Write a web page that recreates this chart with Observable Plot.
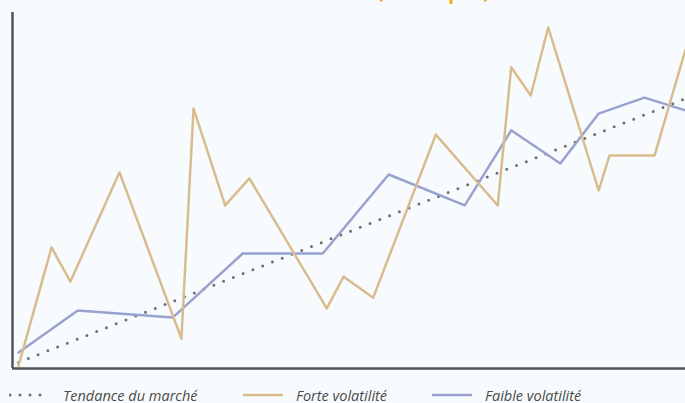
<!DOCTYPE html>
<html>
<head>
<meta charset="utf-8">
<script src="https://cdn.jsdelivr.net/npm/d3@7"></script>
<script src="https://cdn.jsdelivr.net/npm/@observablehq/plot@0.6"></script>
<style>
  html, body { margin: 0; padding: 0; background: #f8fbfd; width: 685px; height: 403px; overflow: hidden; position: relative; font-family: "Open Sans", sans-serif; }
  #title { position: absolute; left: 0; width: 685px; top: -23px; text-align: center; padding-left: 182px; box-sizing: border-box; font-size: 24px; line-height: 1; font-weight: 600; color: #f5a800; white-space: nowrap; }
  #chart { position: absolute; left: 0; top: 0; }
  #legend { position: absolute; left: 0; top: 385px; width: 685px; height: 20px; font-style: italic; font-size: 14.5px; color: #4a4a4a; }
  .item { position: absolute; top: 0; display: flex; align-items: center; height: 20px; }
  .item svg { margin-right: 12px; }
</style>
</head>
<body>
<div id="title">(exemple)</div>
<div id="chart"></div>
<div id="legend"></div>
<script>
// Series values (x: time index 0-100, y: value index 0-100)
const forteX = [0.9, 5.8, 8.6, 15.9, 25.1, 26.9, 31.6, 35.2, 46.7, 49.2, 53.6, 62.9, 72.1, 74.1, 77.0, 79.6, 87.1, 88.7, 95.4, 100];
const forteY = [0.8, 34.0, 24.4, 55.1, 8.4, 73.0, 45.8, 53.4, 16.9, 25.8, 19.9, 65.7, 45.8, 84.6, 76.7, 95.8, 50.0, 59.8, 59.8, 89.6];
const faibleX = [0.9, 9.7, 23.8, 34.2, 46.1, 55.9, 67.2, 74.1, 81.4, 87.1, 93.9, 100];
const faibleY = [4.5, 16.3, 14.3, 32.3, 32.3, 54.5, 45.8, 66.9, 57.6, 71.6, 76.1, 72.5];
const trendX = [0.9, 100];
const trendY = [1.7, 75.8];
const seriesNames = ["Tendance du marché", "Forte volatilité", "Faible volatilité"];
const colors = {trend: "#707070", forte: "#d8bc8e", faible: "#97a2cf"};

const forte = forteX.map((x, i) => ({x, y: forteY[i]}));
const faible = faibleX.map((x, i) => ({x, y: faibleY[i]}));
const trend = trendX.map((x, i) => ({x, y: trendY[i]}));

const plot = Plot.plot({
  width: 685,
  height: 375,
  marginLeft: 12,
  marginRight: 0,
  marginTop: 12,
  marginBottom: 7,
  style: {background: "transparent", overflow: "visible"},
  x: {domain: [0, 100], axis: null},
  y: {domain: [0, 100], axis: null},
  marks: [
    Plot.line(trend, {x: "x", y: "y", stroke: colors.trend, strokeWidth: 3, strokeDasharray: "0,10.5", strokeLinecap: "round"}),
    Plot.line(faible, {x: "x", y: "y", stroke: colors.faible, strokeWidth: 2.5}),
    Plot.line(forte, {x: "x", y: "y", stroke: colors.forte, strokeWidth: 2.5}),
    Plot.ruleX([0], {stroke: "#555", strokeWidth: 2.5}),
    Plot.ruleY([0], {stroke: "#555", strokeWidth: 2.5})
  ]
});
document.getElementById("chart").appendChild(plot);

const legend = document.getElementById("legend");
const items = [
  {name: seriesNames[0], color: colors.trend, dash: "0,10", w: 3, left: 9},
  {name: seriesNames[1], color: colors.forte, dash: null, w: 2.5, left: 242},
  {name: seriesNames[2], color: colors.faible, dash: null, w: 2.5, left: 431}
];
for (const it of items) {
  const d = document.createElement("div");
  d.className = "item";
  d.style.left = it.left + "px";
  d.innerHTML = `<svg width="42" height="20"><line x1="1" x2="41" y1="10" y2="10" stroke="${it.color}" stroke-width="${it.w}" ${it.dash ? `stroke-dasharray="${it.dash}" stroke-linecap="round"` : ""}/></svg><span>${it.name}</span>`;
  legend.appendChild(d);
}
</script>
</body>
</html>
